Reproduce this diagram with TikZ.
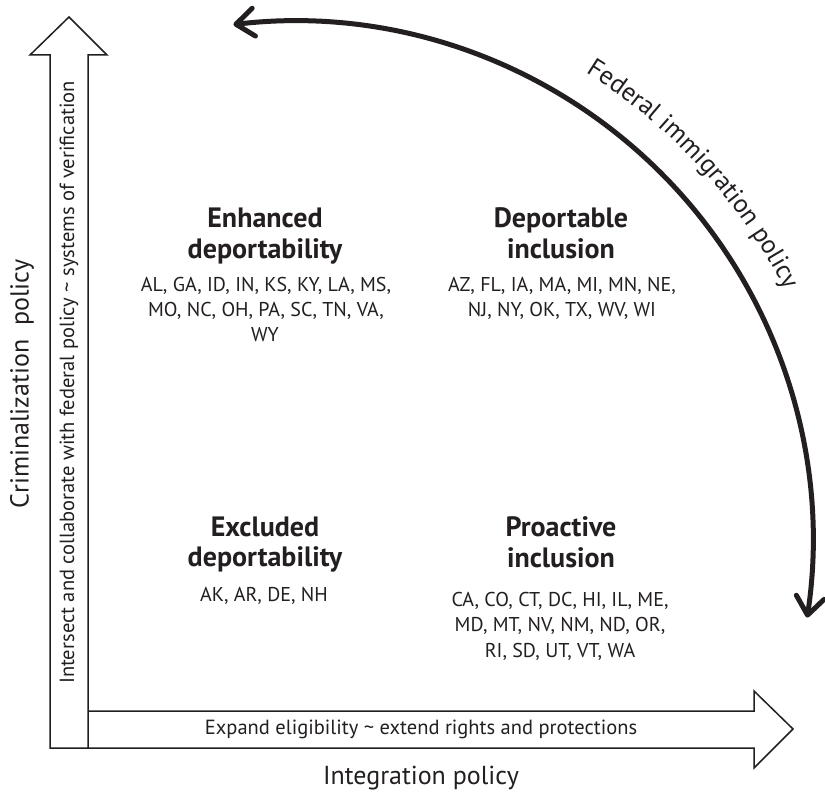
\documentclass[tikz,border=0pt]{standalone}
\usepackage{fontspec}
\setmainfont{PT Sans}
\usetikzlibrary{arrows.meta,decorations.text}
\definecolor{ink}{RGB}{35,31,32}
\newcommand\statefont{\fontsize{20}{25}\selectfont}
\newcommand\titlefont{\fontsize{28}{31}\selectfont\bfseries}
\newcommand\axisfont{\fontsize{26}{30}\selectfont}
\newcommand\arrowtextfont{\fontsize{20.5}{23}\selectfont}
\begin{document}
\begin{tikzpicture}[x=1pt,y=-1pt,
  blockarrow/.style={draw=ink, line width=1.5pt, line join=miter, fill=white},
  quadtitle/.style={font=\titlefont, text=ink, anchor=base, inner sep=0pt},
  states/.style={font=\statefont, text=ink, anchor=base, inner sep=0pt},
  axislabel/.style={font=\axisfont, text=ink, inner sep=0pt},
  inarrow/.style={font=\arrowtextfont, text=ink, inner sep=0pt},
  fedarrow/.style={draw=ink, line width=5pt, line cap=round,
    {Straight Barb[length=18pt,width=28pt,round]}-{Straight Barb[length=18pt,width=28pt,round]}}]
\useasboundingbox (0,0) rectangle (825,799);
\fill[white] (0,0) rectangle (825,799);

% block arrows
\draw[blockarrow] (88,711) -- (754,711) -- (754,691) -- (793,729) -- (754,768) -- (754,748) -- (88,748);
\draw[blockarrow] (50,748) -- (50,55) -- (30,55) -- (69,17) -- (107,55) -- (88,55) -- (88,748) -- cycle;

\node[inarrow, rotate=90] (vtext) at (69,382.5) {Intersect and collaborate with federal policy \textasciitilde{} systems of verification};
\node[inarrow] (htext) at (421,729) {Expand eligibility \textasciitilde{} extend rights and protections};

\node[axislabel, rotate=90] (ylabel) at (22,384) {Criminalization\ \ policy};
\node[axislabel] (xlabel) at (421,778) {Integration policy};

% quadrants
\node[quadtitle] (enhA) at (265,228) {Enhanced};
\node[quadtitle] (enhB) at (265,259) {deportability};
\node[states] (enhC) at (266,292) {AL, GA, ID, IN, KS, KY, LA, MS,};
\node[states] (enhD) at (266,317) {MO, NC, OH, PA, SC, TN, VA,};
\node[states] (enhE) at (265,342) {WY};

\node[quadtitle] (depA) at (561,228) {Deportable};
\node[quadtitle] (depB) at (561,259) {inclusion};
\node[states] (depC) at (562,292) {AZ, FL, IA, MA, MI, MN, NE,};
\node[states] (depD) at (562,317) {NJ, NY, OK, TX, WV, WI};

\node[quadtitle] (excA) at (265,536) {Excluded};
\node[quadtitle] (excB) at (265,566) {deportability};
\node[states] (excC) at (264,601) {AK, AR, DE, NH};

\node[quadtitle] (proA) at (561,536) {Proactive};
\node[quadtitle] (proB) at (561,567) {inclusion};
\node[states] (proC) at (560,606) {CA, CO, CT, DC, HI, IL, ME,};
\node[states] (proD) at (560,631) {MD, MT, NV, NM, ND, OR,};
\node[states] (proE) at (560,657) {RI, SD, UT, VT, WA};

% federal arc
\coordinate (fedc) at (294,540);
\draw[fedarrow] ([shift={(263.3:519)}]fedc) arc[start angle=263.3, end angle=368.6, radius=519];
\path[decorate, decoration={text along path, text color=ink, text align=center,
  text={|\axisfont|Federal immigration policy}}]
  ([shift={(-62:551)}]fedc) arc[start angle=-62, end angle=-23, radius=551];
\end{tikzpicture}
\end{document}
